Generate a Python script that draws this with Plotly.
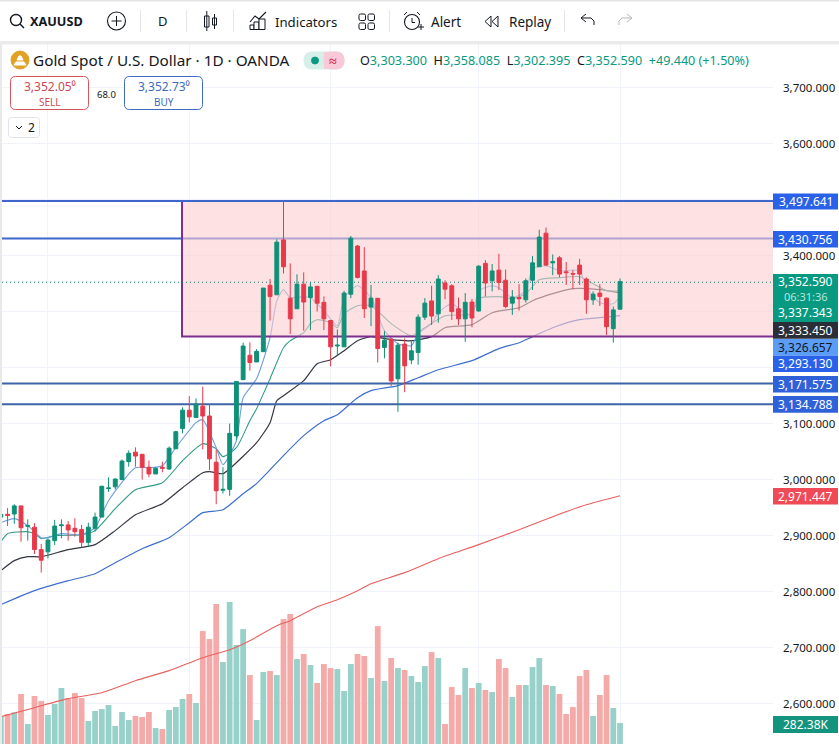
import plotly.graph_objects as go

W, H = 839, 744
FONT = "Noto Sans"

# ---------- data ----------
opens = [2932,2937,2937.5,2952,2915.5,2914,2874,2870,2890,2916.7,2918,2912,2910,2887,2912,2932,2983,2986,2999,3031,3048,3044,3021,3009,3021,3018,3054,3090,3123,3110,3130,3112.5,3030,2980,2981.5,3077,3177.4,3221,3209,3227.4,3346,3329,3427,3323,3304,3348,3324,3344,3315.5,3283,3237.5,3236,3330,3416,3371.5,3307,3322.7,3235,3250,3179,3241,3212.5,3226,3289,3318,3295,3350,3345,3304,3286,3316,3300,3385,3354,3373,3355,3314,3324,3320,3355,3379,3439,3386,3395,3370,3367,3382,3357,3320,3332,3323,3268.5,3303.3]
highs = [2938,2948,2955,2952,2928,2921,2884,2894,2927,2928,2925,2930,2918,2922,2940,2988,3003,3001,3035,3051,3056.5,3045,3033,3021,3031,3058,3086,3128,3148,3144,3165,3134,3053,3021,3099,3175,3243.5,3244,3232,3341,3357,3428,3497.6,3385,3365.5,3369,3351,3345,3326,3284,3267,3336,3434,3418,3414,3346.5,3323,3264,3251,3243.5,3251,3248,3294,3323,3345,3364,3355,3348,3324,3332,3321.5,3382,3391,3384,3402,3374,3337.5,3348,3358,3398,3445,3449,3401,3398,3387.5,3373,3393,3360,3335,3348,3324,3308,3358.085]
lows = [2932,2916,2920,2888,2890,2866,2833,2858,2882,2894,2890,2897,2878,2879,2906,2932,2977,2981.5,2998,3022,3022,2999,3003,3008.9,3012,3016,3053.6,3081.5,3101,3110,3053,3016,2955,2974,2970,3070,3177.4,3193.5,3209,3227,3283,3329,3367,3259,3304,3265,3266,3299,3266,3201,3221.5,3236,3323,3358,3287.5,3273,3208,3215.5,3166,3120,3155,3205,3204,3284,3275,3279,3321,3284,3275,3245,3271,3299,3326,3335,3337.5,3305,3293,3301,3315,3337.5,3379,3380,3364,3360,3346.5,3339,3346.5,3295,3311,3309,3257,3243.5,3302.395]
closes = [2937,2935,2952,2913,2917,2874,2855,2891,2916,2918,2909,2906,2887,2914,2932,2987,2984,3000,3032,3046,3041,3021,3009,3019,3019,3055,3084.5,3123,3111,3134,3112.5,3036,2979,2981.5,3081.5,3174,3237.5,3208,3228,3341,3326,3423,3379,3286,3348,3316,3343,3314,3286,3236,3239,3332,3430,3360,3304,3323,3233,3248,3175,3239,3202,3229,3289,3314,3291,3357,3339,3299,3286,3315.5,3287.5,3380,3350,3371.5,3351,3308,3325,3322,3354,3386,3432,3382,3388,3366,3368.5,3366,3366,3320,3330,3326,3272,3302,3352.59]
volume_k = [376,403,426,672,269,645,578,390,538,753,605,685,618,309,444,470,524,242,430,323,376,363,430,215,202,457,497,605,672,551,1519,1411,1882,1102,1908,1331,1546,927,323,968,981,927,1680,1747,1142,1210,1062,820,1075,1021,1008,712,1075,1210,1183,887,1586,847,1156,1021,995,914,833,1048,1236,1156,269,766,659,1021,753,820,726,699,1142,1021,632,793,793,1035,1156,793,780,672,403,497,914,995,376,659,927,484,282.38]

ma_fast_bar = [0,2,4,6,7,9,12,14,16,20,22,24,26,29,30,32,33,35,36,38,40,41,42,43,45,46,48,50,51,53,55,57,59,61,62,64,65,67,69,70,71,73,74,76,78,79,81,83,86,87,89,91,92]
ma_fast = [2923.2,2930.4,2917.9,2896.4,2896.4,2903.6,2901.8,2914.3,2962.5,3021.4,3021.4,3025,3057.1,3101.8,3107.1,3057.1,3026.8,3069.6,3146.4,3180.4,3253.6,3319.6,3339.3,3325,3326.8,3325,3301.8,3275,3325,3346.4,3325,3266.1,3242.9,3239.3,3260.7,3278.6,3298.2,3314.3,3296.4,3294.6,3337.5,3346.4,3342.9,3325,3337.5,3376.8,3382.1,3373.2,3373.2,3342.9,3316.1,3314.3,3326.657]

ma_mid_bar = [0,1,4,5,6,8,12,14,17,20,24,27,30,32,33,35,37,38,40,42,43,45,46,47,49,50,51,53,55,58,61,63,66,70,71,74,76,78,80,83,86,88,90,92]
ma_mid = [2889.3,2903.6,2907.1,2903.6,2894.6,2900,2901.8,2909,2948.2,2982.1,2994.6,3034,3064.3,3055.4,3041.1,3057.1,3105.4,3126.8,3180.4,3235.7,3248.2,3262.5,3278.6,3285.7,3280.4,3271.4,3296.4,3310.7,3310.7,3278.6,3257.1,3271.4,3292.9,3296.4,3323.2,3326.8,3323.2,3332.1,3357.1,3360.7,3362.5,3350,3337.5,3337.343]

ma_slow_bar = [0,2,4,6,10,14,17,20,24,27,30,31,33,34,38,40,41,42,45,47,49,51,53,55,58,61,64,66,70,73,77,79,82,85,89,92]
ma_slow = [2837.5,2855.4,2862.5,2862.5,2875,2884,2909,2937.5,2957.1,2985.7,3012.5,3014.3,3010.7,3019.6,3066,3101.8,3141,3150,3176.8,3207.1,3214.3,3230.4,3248.2,3255.4,3250,3248.2,3255.4,3271.4,3276.8,3298.2,3307.1,3319.6,3332.1,3341.1,3339.3,3333.45]

ma_long_bar = [0,5,10,14,17,21,25,28,30,33,36,38,42,45,48,50,53,55,59,62,65,70,74,77,79,82,86,89,92]
ma_long = [2776.8,2801.8,2819.6,2832.1,2851.8,2876.8,2896.4,2923.2,2941.1,2946.4,2975,2993,3043,3078.6,3105.4,3116,3146.4,3159,3167.9,3182,3196.4,3212.5,3234,3244.6,3255.4,3271.4,3285.7,3289.3,3293.13]

ma_200_bar = [0,5,10,15,20,25,30,34,37,41,43,47,50,53,55,60,65,71,77,82,87,92]
ma_200 = [2576.8,2592.9,2609,2619.6,2641.1,2659,2682.1,2696.4,2712.5,2739.3,2748.2,2773.2,2785.7,2801.8,2814.3,2834,2859,2884,2910.7,2934,2955.4,2971.447]

levels_upper = [3497.641, 3430.756]
levels_lower = [3171.575, 3134.788]
last_price = 3352.59
range_low = 3255.5
range_start_bar = 26.92

price_ticks = [3700, 3600, 3400, 3100, 3000, 2900, 2800, 2700, 2600]
covered_ticks = [3500, 3300, 3200]
grid_bars = [7, 28, 49, 71, 92]

x_range = [0.172, 114.73]
price_range = [2528, 3778]
candle_range = [2526.8, 3776.8]
volume_range = [0, 9413]

bars = list(range(len(closes)))
UP, DOWN = "#0f9078", "#e8394a"
VOL_UP, VOL_DOWN = "#98d1c9", "#f4aaa9"
vol_colors = [VOL_UP if c >= o else VOL_DOWN for o, c in zip(opens, closes)]

# ---------- helpers for the surrounding chrome, in page pixels ----------
def X(x): return x / W
def Y(y): return 1 - y / H

shapes, annos = [], []

def rect(x0, y0, x1, y1, fill, line=None, lw=1):
    shapes.append(dict(type="rect", xref="paper", yref="paper", x0=X(x0), x1=X(x1), y0=Y(y0), y1=Y(y1),
                       fillcolor=fill, line=dict(color=line or "rgba(0,0,0,0)", width=lw if line else 0)))

def seg(x0, y0, x1, y1, color="#131722", lw=1):
    shapes.append(dict(type="line", xref="paper", yref="paper", x0=X(x0), x1=X(x1), y0=Y(y0), y1=Y(y1),
                       line=dict(color=color, width=lw)))

def circ(cx, cy, r, fill="rgba(0,0,0,0)", line="#131722", lw=1):
    shapes.append(dict(type="circle", xref="paper", yref="paper", x0=X(cx-r), x1=X(cx+r), y0=Y(cy-r), y1=Y(cy+r),
                       fillcolor=fill, line=dict(color=line, width=lw)))

def path(points, color="#131722", lw=1, fill="rgba(0,0,0,0)", close=False):
    d = "M " + " L ".join(f"{X(a):.5f},{Y(b):.5f}" for a, b in points) + (" Z" if close else "")
    shapes.append(dict(type="path", xref="paper", yref="paper", path=d, fillcolor=fill, line=dict(color=color, width=lw)))

def rrect(x0, y0, x1, y1, r, line, fill="#ffffff", lw=1):
    p = (f"M {X(x0+r):.5f},{Y(y0):.5f} L {X(x1-r):.5f},{Y(y0):.5f} Q {X(x1):.5f},{Y(y0):.5f} {X(x1):.5f},{Y(y0+r):.5f} "
         f"L {X(x1):.5f},{Y(y1-r):.5f} Q {X(x1):.5f},{Y(y1):.5f} {X(x1-r):.5f},{Y(y1):.5f} "
         f"L {X(x0+r):.5f},{Y(y1):.5f} Q {X(x0):.5f},{Y(y1):.5f} {X(x0):.5f},{Y(y1-r):.5f} "
         f"L {X(x0):.5f},{Y(y0+r):.5f} Q {X(x0):.5f},{Y(y0):.5f} {X(x0+r):.5f},{Y(y0):.5f} Z")
    shapes.append(dict(type="path", xref="paper", yref="paper", path=p, fillcolor=fill, line=dict(color=line, width=lw)))

def text(x, y, s, size=12, color="#131722", anchor="left", bold=False):
    annos.append(dict(xref="paper", yref="paper", x=X(x), y=Y(y), text=f"<b>{s}</b>" if bold else s, showarrow=False,
                      xanchor=anchor, yanchor="middle", font=dict(family=FONT, size=size, color=color),
                      borderpad=0, borderwidth=0))

# ---------- figure traces ----------
fig = go.Figure()
fig.add_bar(x=bars, y=volume_k, marker=dict(color=vol_colors, line_width=0), width=0.86, yaxis="y", xaxis="x",
            showlegend=False, hoverinfo="skip")

for bar_ids, vals, col, w in [(ma_200_bar, ma_200, "#e8615f", 1.1), (ma_long_bar, ma_long, "#3f6fce", 1.2),
                              (ma_slow_bar, ma_slow, "#33363f", 1.2), (ma_mid_bar, ma_mid, "#2f9a85", 1.1),
                              (ma_fast_bar, ma_fast, "#6f9fdc", 1.1)]:
    fig.add_scatter(x=bar_ids, y=vals, mode="lines", line=dict(color=col, width=w, shape="spline", smoothing=0.6),
                    yaxis="y2", showlegend=False, hoverinfo="skip")

fig.add_scatter(x=x_range, y=[levels_upper[1]] * 2, mode="lines", line=dict(color="#3f66cc", width=2), yaxis="y2",
                showlegend=False, hoverinfo="skip")
# translucent trading-range box, above the averages
fig.add_scatter(x=[range_start_bar, x_range[1], x_range[1], range_start_bar], y=[range_low, range_low, levels_upper[0], levels_upper[0]],
                mode="none", fill="toself", fillcolor="rgba(252,205,209,0.6)", yaxis="y2", showlegend=False, hoverinfo="skip")
fig.add_scatter(x=[range_start_bar, range_start_bar, x_range[1]], y=[levels_upper[0], range_low, range_low], mode="lines",
                line=dict(color="#7c2f8f", width=2), yaxis="y2", showlegend=False, hoverinfo="skip")
fig.add_scatter(x=x_range, y=[levels_upper[0]] * 2, mode="lines", line=dict(color="#3f66cc", width=2), yaxis="y2",
                showlegend=False, hoverinfo="skip")
for lv in levels_lower:
    fig.add_scatter(x=x_range, y=[lv] * 2, mode="lines", line=dict(color="#3d64a8", width=2), yaxis="y2",
                    showlegend=False, hoverinfo="skip")
fig.add_scatter(x=x_range, y=[last_price] * 2, mode="lines", line=dict(color="#0b7a68", width=1, dash="1px 3px"),
                yaxis="y2", showlegend=False, hoverinfo="skip")

fig.add_candlestick(x=bars, open=opens, high=highs, low=lows, close=closes, yaxis="y3", whiskerwidth=0,
                    increasing=dict(line=dict(color=UP, width=1), fillcolor=UP),
                    decreasing=dict(line=dict(color=DOWN, width=1), fillcolor=DOWN),
                    showlegend=False, hoverinfo="skip")

# ---------- toolbar ----------
rect(0, 0, W, 1.5, "#e4e4e4")
rect(0, 41, W, 44.5, "#ebebeb")
rect(0, 44, 2, H, "#e9e9e9")
circ(16, 20, 5.5, lw=1.4)
seg(20, 24, 24, 28, lw=1.4)
text(30, 21, "XAUUSD", 12.7, bold=True)
circ(116.5, 21, 9, lw=1.1)
seg(111.5, 21, 121.5, 21); seg(116.5, 16, 116.5, 26)
for sx in (140.5, 186.5, 233.5, 389.5, 564.5):
    seg(sx, 10, sx, 32, "#e6e6e6")
text(163, 21, "D", 13, anchor="center")
rect(204.5, 16, 209, 27, "#ffffff", "#131722"); seg(206.8, 11, 206.8, 31)
rect(212.5, 18, 216.5, 25, "#ffffff", "#131722"); seg(214.5, 14, 214.5, 29)
path([(250, 22), (255, 16), (259, 19), (266, 12)], lw=1.1)
for bx0, bx1, by in ((250, 254, 25), (254, 259, 22), (259, 265, 19)):
    rect(bx0, by, bx1, 29.5, "#ffffff", "#131722")
text(275, 21.5, "Indicators", 13.2)
for sx, sy in ((359, 14), (368, 14), (359, 23), (368, 23)):
    rrect(sx, sy, sx + 6.5, sy + 6.5, 1.5, "#131722")
circ(412, 22, 7.5, lw=1.1)
seg(412, 18, 412, 22.5); seg(412, 22.5, 415, 22.5)
seg(404, 15, 407, 12); seg(420, 15, 417, 12)
seg(418, 27, 424, 27); seg(421, 24, 421, 30)
text(431, 21.5, "Alert", 13.5)
path([(491, 16), (485, 21.5), (491, 27)], close=True)
path([(498, 16), (492, 21.5), (498, 27)], close=True)
text(509, 21.5, "Replay", 13.5)
path([(581, 18), (586, 14)]); path([(581, 18), (586, 22)])
path([(581, 18), (591, 18), (594, 21), (594, 25)])
path([(632, 18), (627, 14)], "#b2b5be"); path([(632, 18), (627, 22)], "#b2b5be")
path([(632, 18), (622, 18), (619, 21), (619, 25)], "#b2b5be")

# ---------- chart header ----------
circ(20, 60, 9, fill="#e0a326", line="#e0a326")
path([(14, 65), (26, 65), (24, 62), (16, 62)], color="#ffffff", fill="#ffffff", close=True)
path([(17, 60), (23, 60), (21, 56), (19, 56)], color="#ffffff", fill="#ffffff", close=True)
text(33, 60.5, "Gold Spot / U.S. Dollar · 1D · OANDA", 15.3)
rrect(304, 52, 344, 69, 8, "#d7efe9", "#d7efe9")
rrect(324, 52, 344, 69, 8, "#f9c9d8", "#f9c9d8")
rect(324, 52, 330, 69, "#f9c9d8")
circ(315, 60.5, 3.5, fill="#0a9a83", line="#0a9a83")
text(333, 60, "≈", 14, "#d9365a", anchor="center", bold=True)
G = "#089981"
ohlc = (f'O<span style="color:{G}">3,303.300</span>  H<span style="color:{G}">3,358.085</span>  '
        f'L<span style="color:{G}">3,302.395</span>  C<span style="color:{G}">3,352.590</span>  '
        f'<span style="color:{G}">+49.440 (+1.50%)</span>')
text(360, 60.5, ohlc, 12.6)

rrect(10.5, 76.5, 88.5, 109.5, 5, "#d2535e")
text(49.5, 86.5, '3,352.05⁰', 12, "#cc4a55", anchor="center")
text(49.5, 101.5, "SELL", 10, "#cc4a55", anchor="center")
text(106, 94, "68.0", 9.5, anchor="center")
rrect(124.5, 76.5, 202.5, 109.5, 5, "#3d6bc0")
text(163.5, 86.5, '3,352.73⁰', 12, "#3d6bc0", anchor="center")
text(163.5, 101.5, "BUY", 10, "#3d6bc0", anchor="center")
rrect(8.5, 117.5, 39.5, 137.5, 3, "#e0e3eb")
path([(16, 126), (19, 129), (22, 126)])
text(31, 127.5, "2", 12, anchor="center")

# ---------- price-scale labels ----------
BLUE = "#2962e8"
def plabel(y0, y1, s, fill, color="#ffffff"):
    rect(773, y0, 838, y1, fill)
    text(805.5, (y0 + y1) / 2, s, 12, color, anchor="center")

plabel(193.5, 209.5, f"{levels_upper[0]:,.3f}", BLUE)
plabel(231, 247.5, f"{levels_upper[1]:,.3f}", BLUE)
rect(773, 274, 838, 322, "#089981")
text(805.5, 281.5, f"{last_price:,.3f}", 12, "#ffffff", anchor="center")
text(805.5, 296, "06:31:36", 11, "#b5e6dc", anchor="center")
text(805.5, 312.5, f"{ma_mid[-1]:,.3f}", 12, "#ffffff", anchor="center")
plabel(322, 338.7, f"{ma_slow[-1]:,.3f}", "#2a2e39")
plabel(339, 355.7, f"{ma_fast[-1]:,.3f}", "#5b9cf6", "#131722")
plabel(355.7, 372, f"{ma_long[-1]:,.3f}", BLUE)
plabel(376, 392.5, f"{levels_lower[0]:,.3f}", "#2f62d8")
plabel(396, 412.7, f"{levels_lower[1]:,.3f}", "#2f62d8")
plabel(488, 504.5, f"{ma_200[-1]:,.3f}", "#ef4a55")
plabel(716, 733, f"{volume_k[-1]:.2f}K", "#14937e")

# ---------- layout ----------
GRID = "#f0f3fa"
plot_dom = [0, (H - 44) / H]
fig.update_layout(
    width=W, height=H, margin=dict(l=0, r=0, t=0, b=0, autoexpand=False),
    paper_bgcolor="#ffffff", plot_bgcolor="#ffffff", showlegend=False, boxgap=0.18, bargap=0.14,
    font=dict(family=FONT, size=12, color="#131722"), shapes=shapes, annotations=annos,
    xaxis=dict(domain=[2 / W, 773 / W], range=x_range, tickmode="array", tickvals=grid_bars, showticklabels=False, ticks="",
               showgrid=True, gridcolor=GRID, gridwidth=1, zeroline=False, showline=False, rangeslider=dict(visible=False)),
    yaxis=dict(domain=plot_dom, range=volume_range, showgrid=False, showticklabels=False, ticks="", zeroline=False,
               showline=False),
    yaxis2=dict(domain=plot_dom, overlaying="y", side="right", range=price_range, tickmode="array", tickvals=price_ticks,
                ticktext=[f"{t:,.3f}" for t in price_ticks], ticks="", ticklabelstandoff=9,
                tickfont=dict(family=FONT, size=11.5, color="#131722"), showgrid=True, gridcolor=GRID, gridwidth=1,
                zeroline=False, showline=False),
    yaxis3=dict(domain=plot_dom, overlaying="y", side="right", range=candle_range, showgrid=False, showticklabels=False,
                ticks="", zeroline=False, showline=False),
    yaxis4=dict(domain=plot_dom, overlaying="y", side="right", range=price_range, tickmode="array", tickvals=covered_ticks,
                showgrid=True, gridcolor=GRID, gridwidth=1, showticklabels=False, ticks="", zeroline=False, showline=False),
)
fig.add_scatter(x=[None], y=[None], yaxis="y4", showlegend=False, hoverinfo="skip")
fig.write_html("out.html", config=dict(displayModeBar=False),
               post_script="document.documentElement.style.overflow='hidden';document.body.style.margin='0';")
